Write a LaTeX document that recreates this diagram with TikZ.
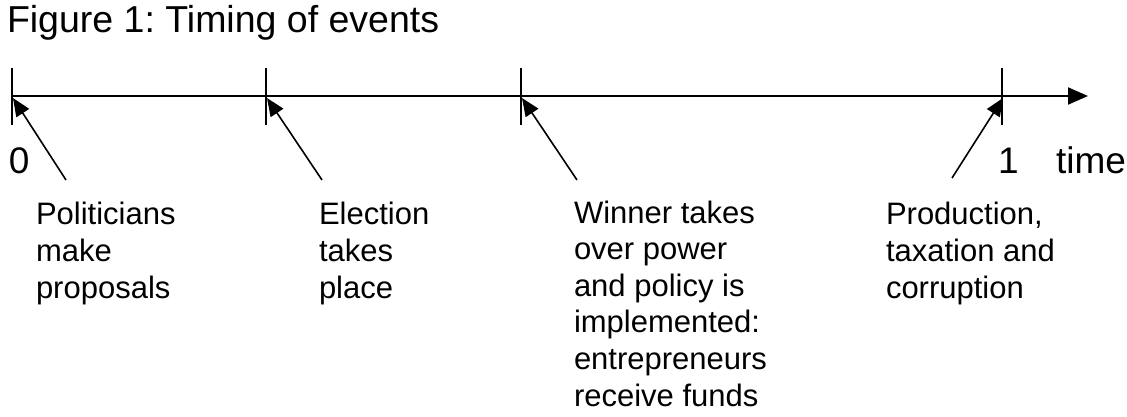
\documentclass[tikz,border=0pt]{standalone}
\usepackage{fontspec}
\setmainfont{Liberation Sans}
\usetikzlibrary{arrows.meta, positioning, calc}
\frenchspacing

\begin{document}
\begin{tikzpicture}[x=1pt, y=-1pt, line width=2pt,
    event/.style={anchor=base west, inner sep=0pt, align=left, font=\fontsize{31}{36.6}\selectfont},
    marklabel/.style={anchor=base west, inner sep=0pt, font=\fontsize{37}{44}\selectfont},
    pointer/.style={-{Triangle[length=18pt, width=15pt]}, line width=1.6pt}]
    \useasboundingbox (0,0) rectangle (1127,417);

    % Title
    \node[marklabel, font=\fontsize{37.5}{44}\selectfont] (title) at (6,33) {Figure 1: Timing of events};

    % Time axis
    \coordinate (start) at (12,96);
    \coordinate (end) at (1088,96);
    \draw[-{Triangle[length=20pt, width=17pt]}] (start) -- (end);

    % Ticks and pointers to them
    \foreach \n/\x/\tx/\ty in {a/12/66/180, b/266/322/180, c/521/577/180, d/1002/952/178} {
        \coordinate (top\n) at (\x,68);
        \coordinate (bot\n) at (\x,125);
        \draw (top\n) -- (bot\n);
        \coordinate (tail\n) at (\tx,\ty);
        \coordinate (head\n) at (\x+1,98);
        \draw[pointer] (tail\n) -- (head\n);
    }

    % Axis labels
    \node[marklabel] (zero) at (8,173) {0};
    \node[marklabel] (one) at (997,174) {1};
    \node[marklabel] (time) at (1055,174) {time};

    % Events (anchored at the baseline of the last line)
    \node[event] (pol) at (35,298) {Politicians\\make\\proposals};
    \node[event] (elec) at (318,298) {Election\\takes\\place};
    \node[event] (win) at (573,406) {Winner takes\\over power\\and policy is\\implemented:\\entrepreneurs\\receive funds};
    \node[event] (prod) at (885,298) {Production,\\taxation and\\corruption};
\end{tikzpicture}
\end{document}
